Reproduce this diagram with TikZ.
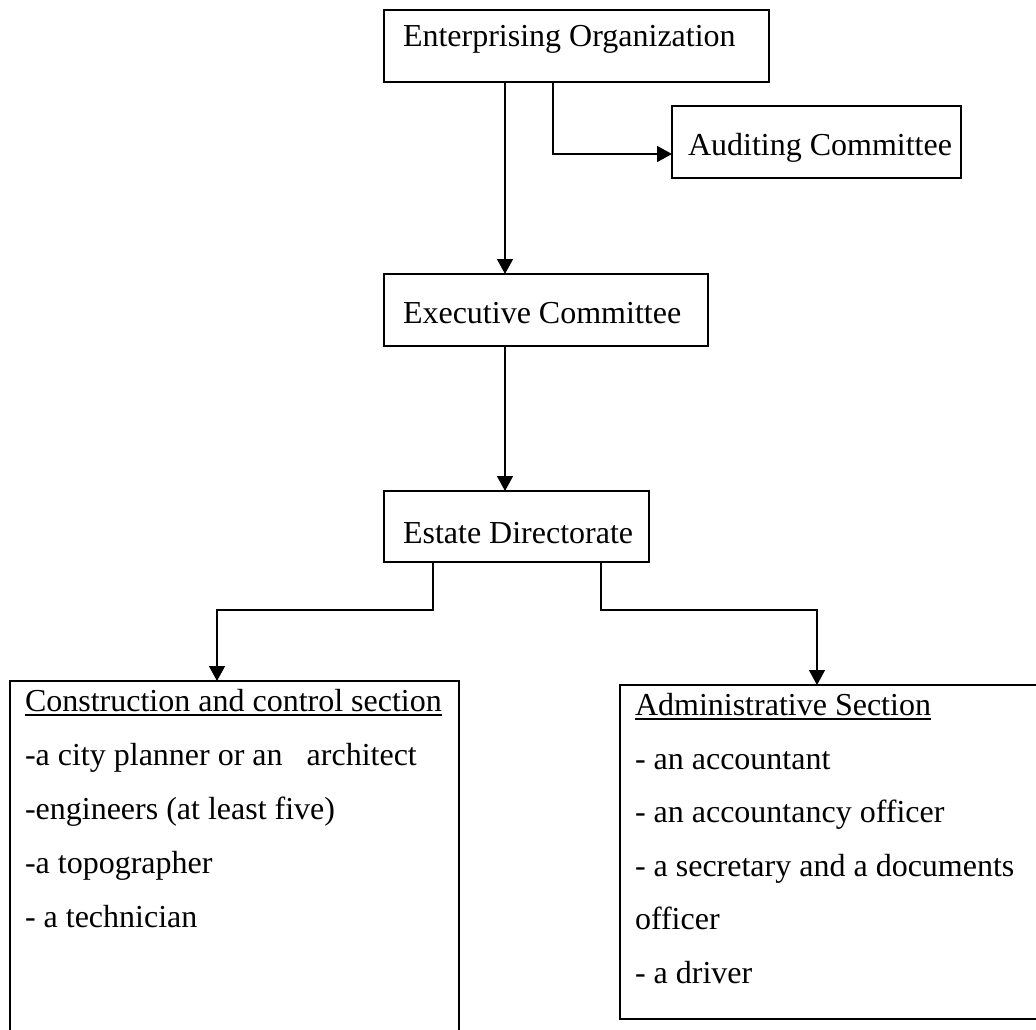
\documentclass[tikz,border=0pt]{standalone}
\usepackage{fontspec}
\setmainfont{Liberation Serif}
\usetikzlibrary{arrows.meta,calc}
\begin{document}
\begin{tikzpicture}[x=1pt,y=-1pt,
  box/.style={draw, line width=1.5pt, rectangle, inner sep=0pt, outer sep=0pt, anchor=north west},
  bigbox/.style={box, line width=2pt},
  txt/.style={inner sep=0pt, outer sep=0pt, anchor=base west, font=\fontsize{32}{38}\selectfont},
  arr/.style={line width=1.5pt, -{Triangle[length=15pt,width=16pt]}},
  ul/.style={line width=1.5pt}]
\clip (0,0) rectangle (1036,1030);
\fill[white] (0,0) rectangle (1036,1030);

% boxes
\node[box, minimum width=385pt, minimum height=72pt] (eo) at (384,10) {};
\node[txt] (eot) at ($(eo.north west)+(19,37)$) {Enterprising Organization};

\node[box, minimum width=289pt, minimum height=72pt] (aud) at (672,106) {};
\node[txt] (audt) at ($(aud.north west)+(16,50)$) {Auditing Committee};

\node[box, minimum width=324pt, minimum height=72pt] (exec) at (384,274) {};
\node[txt] (exect) at ($(exec.north west)+(19,49)$) {Executive Committee};

\node[box, minimum width=265pt, minimum height=71pt] (estate) at (384,491) {};
\node[txt] (estatet) at ($(estate.north west)+(19,52)$) {Estate Directorate};

\node[bigbox, minimum width=449pt, minimum height=380pt] (cons) at (10,681) {};
\node[txt] (c0) at ($(cons.north west)+(15,30)$) {Construction and control section};
\node[txt] (c1) at ($(cons.north west)+(15,84)$) {-a city planner or an~~~architect};
\node[txt] (c2) at ($(cons.north west)+(15,138)$) {-engineers (at least five)};
\node[txt] (c3) at ($(cons.north west)+(15,192)$) {-a topographer};
\node[txt] (c4) at ($(cons.north west)+(15,246)$) {- a technician};
\draw[ul] ([yshift=-4pt]c0.base west) -- ([yshift=-4pt]c0.base east);

\node[bigbox, minimum width=430pt, minimum height=334pt] (adm) at (620,685) {};
\node[txt] (a0) at ($(adm.north west)+(15,30)$) {Administrative Section};
\node[txt] (a1) at ($(adm.north west)+(15,84)$) {- an accountant};
\node[txt] (a2) at ($(adm.north west)+(15,137)$) {- an accountancy officer};
\node[txt] (a3) at ($(adm.north west)+(15,191)$) {- a secretary and a documents};
\node[txt] (a4) at ($(adm.north west)+(15,244)$) {officer};
\node[txt] (a5) at ($(adm.north west)+(15,298)$) {- a driver};
\draw[ul] ([yshift=-4pt]a0.base west) -- ([yshift=-4pt]a0.base east);

% connectors
\draw[arr] ([xshift=121pt]eo.south west) -- ([xshift=121pt]exec.north west);
\draw[arr] ([xshift=169pt]eo.south west) |- ([yshift=-12pt]aud.west);
\draw[arr] ([xshift=121pt]exec.south west) -- ([xshift=121pt]estate.north west);
\draw[arr] ([xshift=49pt]estate.south west) -- ++(0,48) -| ([xshift=207pt]cons.north west);
\draw[arr] ([xshift=217pt]estate.south west) -- ++(0,48) -| ([xshift=197pt]adm.north west);
\end{tikzpicture}
\end{document}
